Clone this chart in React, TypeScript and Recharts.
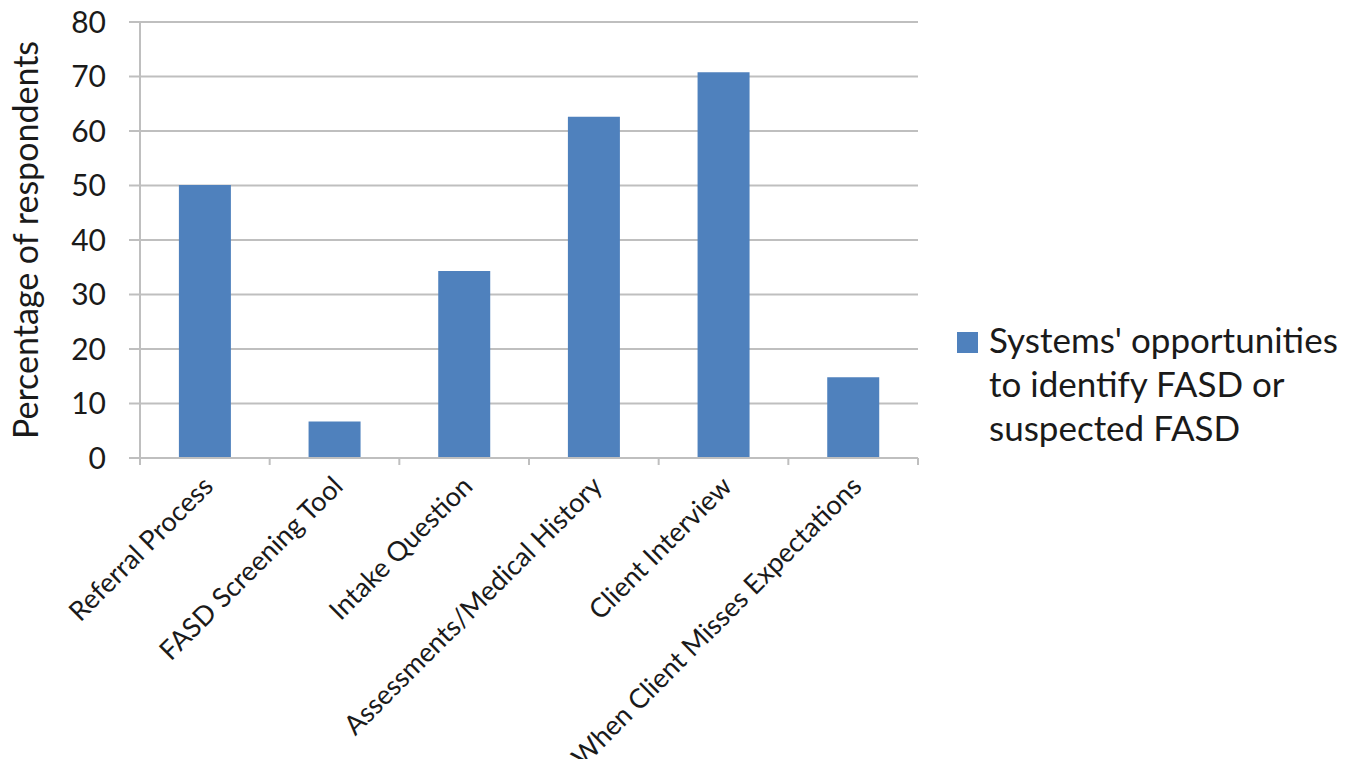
import { BarChart, Bar, XAxis, YAxis, CartesianGrid, Legend, Label } from "recharts";

const categories = [
  "Referral Process",
  "FASD Screening Tool",
  "Intake Question",
  "Assessments/Medical History",
  "Client Interview",
  "When Client Misses Expectations",
];
const values = [50.1, 6.7, 34.3, 62.6, 70.8, 14.8];
const yTicks = [0, 10, 20, 30, 40, 50, 60, 70, 80];
const seriesName = "Systems' opportunities to identify FASD or suspected FASD";
const yTitle = "Percentage of respondents";

const data = categories.map((c, i) => ({ name: c, value: values[i] }));

const FONT = "Lato, 'Open Sans', sans-serif";
const BLUE = "#4f81bd";
const GRID = "#bfbfbf";
const INK = "#1a1a1a";
const TICK_LEN = 7;

// category label plus the tick marks that sit on the band edges
const XTick = (props: any) => {
  const { x, y, payload, index, visibleTicksCount, width } = props;
  const half =
    payload && typeof payload.offset === "number" && payload.offset > 0
      ? payload.offset
      : width / visibleTicksCount / 2;
  const axisY = y - TICK_LEN;
  const last = index === visibleTicksCount - 1;
  return (
    <g>
      <line x1={x - half} x2={x - half} y1={axisY} y2={axisY + TICK_LEN} stroke={GRID} strokeWidth={2} />
      {last && (
        <line x1={x + half} x2={x + half} y1={axisY} y2={axisY + TICK_LEN} stroke={GRID} strokeWidth={2} />
      )}
      <g transform={`translate(${x + 10}, ${y + 23})`}>
        <text transform="rotate(-45)" textAnchor="end" fontFamily={FONT} fontSize={27} fill={INK}>
          {payload.value}
        </text>
      </g>
    </g>
  );
};

const YTitle = (props: any) => {
  const { viewBox } = props;
  const cx = 38;
  const cy = viewBox.y + viewBox.height / 2;
  return (
    <text
      x={cx}
      y={cy}
      transform={`rotate(-90, ${cx}, ${cy})`}
      textAnchor="middle"
      fontFamily={FONT}
      fontSize={34}
      fill={INK}
    >
      {yTitle}
    </text>
  );
};

const LegendBox = () => (
  <div style={{ display: "flex", alignItems: "flex-start", fontFamily: FONT }}>
    <div
      style={{
        width: 21,
        height: 21,
        background: BLUE,
        marginTop: 15,
        marginRight: 11,
        flex: "none",
      }}
    />
    <div style={{ width: 362, fontSize: 35, lineHeight: "44px", color: INK }}>
      {seriesName}
    </div>
  </div>
);

export default function App() {
  return (
    <div style={{ position: "absolute", left: 0, top: 0, background: "#fff" }}>
      <BarChart
        width={1352}
        height={759}
        data={data}
        margin={{ top: 22, right: 434, bottom: 300, left: 0 }}
        barCategoryGap="30%"
      >
        <CartesianGrid vertical={false} stroke={GRID} strokeWidth={2} />
        <XAxis
          dataKey="name"
          height={1}
          interval={0}
          axisLine={{ stroke: GRID, strokeWidth: 2 }}
          tickLine={false}
          tickSize={TICK_LEN}
          tickMargin={0}
          tick={<XTick />}
        />
        <YAxis
          width={140}
          domain={[0, 80]}
          ticks={yTicks}
          interval={0}
          tickSize={11}
          tickMargin={23}
          axisLine={{ stroke: GRID, strokeWidth: 2 }}
          tickLine={{ stroke: GRID, strokeWidth: 2 }}
          tick={{ fontFamily: FONT, fontSize: 30, fill: INK }}
        >
          <Label content={<YTitle />} />
        </YAxis>
        <Legend
          layout="horizontal"
          verticalAlign="middle"
          align="center"
          wrapperStyle={{ left: 957, top: 317, width: 395 }}
          content={<LegendBox />}
        />
        <Bar dataKey="value" name={seriesName} fill={BLUE} isAnimationActive={false} />
      </BarChart>
    </div>
  );
}
